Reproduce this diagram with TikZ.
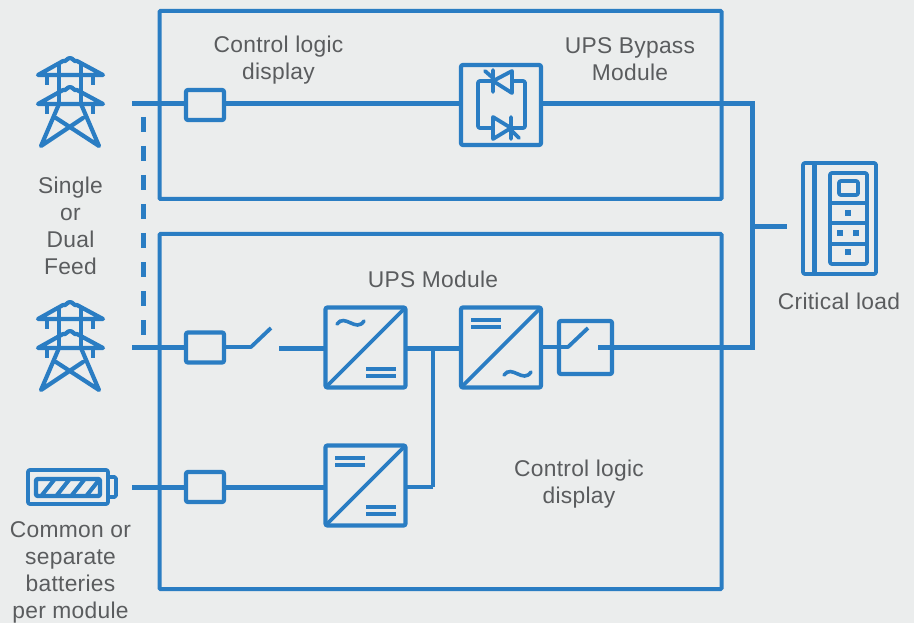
\documentclass[tikz,border=0pt]{standalone}
\usepackage{fontspec}
\setmainfont[LetterSpace=1.2]{Liberation Sans}
\definecolor{bg}{HTML}{EBEDED}
\definecolor{ub}{HTML}{2A7DC3}
\definecolor{tx}{HTML}{5A5C5E}
\tikzset{
  frame/.style={draw=ub,line width=4pt,rounded corners=1pt,minimum width=#1,anchor=center,inner sep=0pt,outer sep=0pt},
  cbox/.style={draw=ub,line width=4.2pt,rounded corners=2pt,inner sep=0pt,outer sep=0pt,minimum width=38pt,minimum height=30pt},
  conv/.style={draw=ub,line width=4.2pt,rounded corners=2pt,inner sep=0pt,outer sep=0pt,minimum width=80pt,minimum height=80pt},
  wire/.style={draw=ub,line width=5pt},
  thin wire/.style={draw=ub,line width=3.8pt},
  icon/.style={draw=ub,line width=3.8pt,line join=round,line cap=round},
  towerline/.style={draw=ub,line width=4.2pt,line join=round,line cap=round},
  bars/.style={draw=ub,line width=4pt},
  lab/.style={text=tx,font=\fontsize{22.8}{27}\selectfont,align=center,inner sep=0pt},
  pics/tower/.style={code={
    \draw[towerline] (-32,17) -- (-7,3) to[out=-30,in=180] (0,0) to[out=0,in=-150] (7,3) -- (33,17) -- cycle;
    \draw[towerline] (-32,46) -- (-7,32) to[out=-30,in=180] (0,29) to[out=0,in=-150] (7,32) -- (33,46) -- cycle;
    \draw[towerline,line cap=butt] (-23,17) -- (-23,27) (23,17) -- (23,27) (-23,46) -- (-23,56) (23,46) -- (23,56);
    \draw[towerline,line cap=butt] (-11,4) -- (-11,46) (11,4) -- (11,46);
    \draw[towerline] (-11,46) -- (-29,88) -- (13,60) (11,46) -- (29,88) -- (-14,60);
  }}
}
\begin{document}
\begin{tikzpicture}[x=1pt,y=-1pt]
\path[fill=bg] (0,0) rectangle (914,623);
\useasboundingbox (0,0) rectangle (914,623);
% module frames
\node[frame=562pt,minimum height=188pt] (bypassframe) at (440.5,105) {};
\node[frame=562pt,minimum height=355pt] (upsframe) at (440.5,411.5) {};
% towers and battery
\pic at (70,58) {tower};
\pic at (70,302) {tower};
\coordinate (feedA) at (132,104);
\coordinate (feedB) at (132,347);
\coordinate (feedC) at (132,487);
\coordinate (dashA) at (143,117);
\coordinate (dashB) at (143,340);
% boxes
\node[cbox] (boxA) at (205,105) {};
\node[cbox] (boxB) at (205,347.5) {};
\node[cbox] (boxC) at (205,487) {};
\node[conv] (bypass) at (501,105) {};
\node[conv] (rect) at (365.5,347.5) {};
\node[conv] (inv) at (501,347.5) {};
\node[conv] (chg) at (365.5,485.5) {};
\node[cbox,minimum width=53pt,minimum height=53pt] (sw) at (585.5,347.5) {};
% junctions
\coordinate (corner1) at (752,104);
\coordinate (corner2) at (752,347);
\coordinate (branch) at (752,227);
\coordinate (loadin) at (787,227);
\coordinate (swA) at (251,347);
\coordinate (swAt) at (271,328);
\coordinate (swBa) at (279,348);
\coordinate (swBi) at (568,347);
\coordinate (swBt) at (588,328);
\coordinate (swBo) at (598,347);
\coordinate (busT) at (433,348);
\coordinate (busB) at (433,487);
% connectors
\draw[wire] (feedA) -- (boxA.west |- feedA);
\draw[wire] (boxA.east |- feedA) -- (bypass.west |- feedA);
\draw[wire] (bypass.east |- corner1) -- (corner1) -- (corner2) -- (swBo);
\draw[wire] (branch) -- (loadin);
\draw[draw=ub,line width=5pt,dash pattern=on 15pt off 14pt] (dashA) -- (dashB);
\draw[wire] (feedB) -- (boxB.west |- feedB);
\draw[thin wire,line join=round] (boxB.east |- feedB) -- (swA) -- (swAt);
\draw[wire] (swBa) -- (rect.west |- swBa);
\draw[wire] (rect.east |- swBa) -- (inv.west |- swBa);
\draw[thin wire,line join=round] (inv.east |- swBi) -- (swBi) -- (swBt);
\draw[thin wire] (busT) -- (busB);
\draw[thin wire] (busB) -- (chg.east |- busB);
\draw[wire] (feedC) -- (boxC.west |- feedC);
\draw[wire] (boxC.east |- feedC) -- (chg.west |- feedC);
% converters
\foreach \n in {rect,inv,chg}{\draw[draw=ub,line width=3.8pt] (\n.south west) -- (\n.north east);}
\draw[bars] (366,369) -- (396,369) (366,376) -- (396,376);
\draw[bars] (471,320) -- (501,320) (471,327) -- (501,327);
\draw[bars] (335,458) -- (365,458) (335,465) -- (365,465);
\draw[bars] (366,507) -- (396,507) (366,514) -- (396,514);
\draw[draw=ub,line width=3.6pt,line cap=round] (337,324) .. controls (345,313) and (356,333) .. (364,321);
\draw[draw=ub,line width=3.6pt,line cap=round] (504,375) .. controls (512,364) and (523,384) .. (531,372);
% bypass thyristors
\draw[icon,rounded corners=2pt] (478,81) rectangle (525,128);
\draw[icon,fill=bg] (493,81) -- (512,71) -- (512,93) -- cycle;
\draw[icon] (493,70) -- (493,92) (485,71) -- (493,78);
\draw[icon,fill=bg] (511,128) -- (493,117) -- (493,139) -- cycle;
\draw[icon] (511,117) -- (511,139) (511,130) -- (519,138);
% critical load
\draw[icon,rounded corners=2pt] (803,163) rectangle (876,274);
\draw[draw=ub,line width=5pt] (814,163) -- (814,274);
\draw[icon,rounded corners=2pt] (830,173) rectangle (867,264);
\draw[icon,rounded corners=2pt] (839,181) rectangle (858,195);
\draw[draw=ub,line width=4.5pt] (830,203) -- (867,203) (830,223) -- (867,223) (830,244) -- (867,244);
\foreach \p/\q in {848/213,840/233,856/233,848/252}{\fill[ub] (\p-3,\q-3) rectangle (\p+3,\q+3);}
% battery
\draw[icon,rounded corners=1.5pt] (109,477) -- (116,477) -- (116,497) -- (109,497);
\draw[icon,rounded corners=2pt] (28,470) rectangle (108,504);
\draw[draw=ub,line width=4.4pt,rounded corners=2pt] (36,479) rectangle (100,496);
\foreach \p in {42,57,72,87}{\draw[draw=ub,line width=4pt] (\p,495) -- (\p+12,480);}
% labels
\node[lab] (t1) at (278.5,60.5) {Control logic\\display};
\node[lab] (t2) at (630,59.5) {UPS Bypass\\Module};
\node[lab] (t3) at (70.5,226) {Single\\or\\Dual\\Feed};
\node[lab] (t4) at (433,279.5) {UPS Module};
\node[lab] (t5) at (579,484) {Control logic\\display};
\node[lab] (t6) at (839,301.5) {Critical load};
\node[lab] (t7) at (70.5,572.5) {Common or\\separate\\batteries\\per module};
\end{tikzpicture}
\end{document}
